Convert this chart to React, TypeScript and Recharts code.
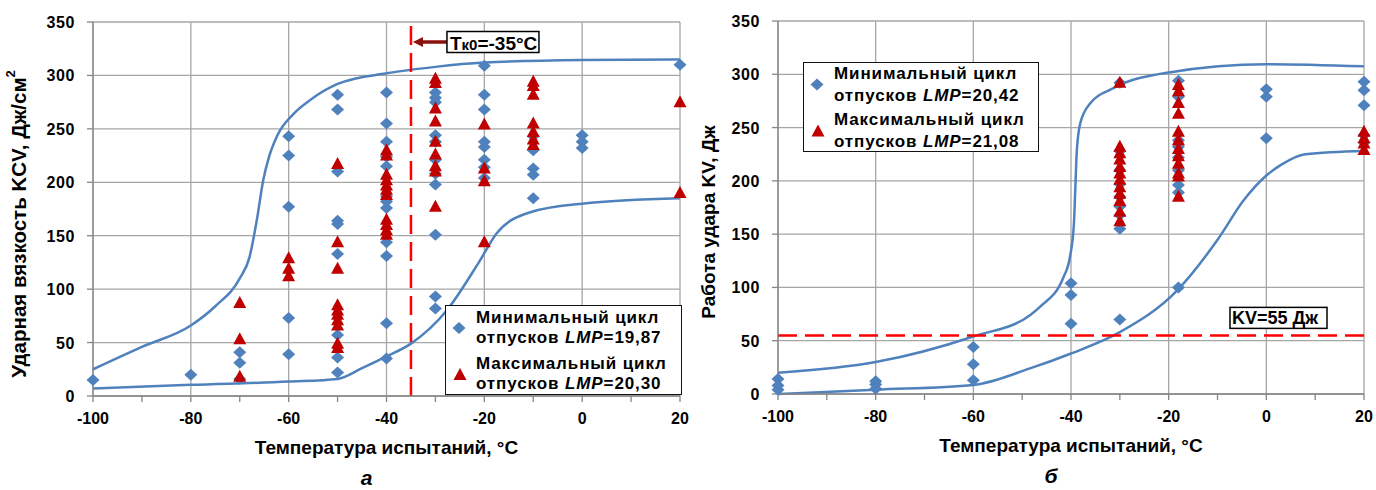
import React from 'react';
import {
  ComposedChart, Scatter, Line, XAxis, YAxis, CartesianGrid, ReferenceLine, Legend, Label,
} from 'recharts';

// shared axes, °C and J
const xTicks = [-100, -90, -80, -70, -60, -50, -40, -30, -20, -10, 0, 10, 20];
const xGridLines = [-100, -80, -60, -40, -20, 0, 20];
const yTicks = [0, 50, 100, 150, 200, 250, 300, 350];

// (а) KCV, минимальный цикл LMP=19,87
const kcvMinTemps = [-100, -80, -70, -60, -50, -40, -30, -20, -10, 0, 20];
const kcvMinValues = [
  [15],
  [20],
  [41, 31, 16],
  [243, 225, 177, 73, 39],
  [282, 268, 210, 164, 161, 133, 57, 36, 22],
  [284, 255, 238, 224, 215, 187, 182, 176, 144, 131, 68, 35],
  [284, 279, 275, 244, 238, 221, 208, 198, 151, 93, 82],
  [309, 282, 268, 238, 233, 221, 214, 204],
  [243, 230, 213, 207, 185],
  [244, 238, 232],
  [310],
];

// (а) KCV, максимальный цикл LMP=20,30
const kcvMaxTemps = [-70, -60, -50, -40, -30, -20, -10, 20];
const kcvMaxValues = [
  [87, 53, 18],
  [129, 119, 112],
  [217, 144, 119, 85, 80, 76, 71, 66, 49, 45],
  [230, 225, 207, 202, 197, 193, 188, 165, 160, 155, 151],
  [297, 293, 269, 257, 238, 226, 215, 210, 177],
  [254, 213, 201, 144],
  [294, 290, 282, 255, 247, 240, 235],
  [275, 190],
];

// (а) fitted transition curves
const kcvFitUpper: [number, number][] = [
  [-100, 25], [-90, 46], [-80, 66], [-75, 84], [-70, 110], [-68, 130], [-66.5, 165],
  [-65.2, 202], [-64, 224], [-62.4, 243], [-59, 264], [-55.6, 277], [-50, 292],
  [-40, 302], [-30, 308], [-20, 312], [0, 314.5], [20, 315],
];
const kcvFitLower: [number, number][] = [
  [-100, 7], [-80, 10.5], [-60, 13.5], [-50, 16], [-45, 26], [-40, 37], [-35, 49],
  [-27.7, 80], [-21, 126], [-17.5, 152], [-10.6, 172], [0, 180], [20, 185],
];

// (б) KV, минимальный цикл LMP=20,42
const kvMinTemps = [-100, -80, -60, -40, -30, -18, 0, 20];
const kvMinValues = [
  [14, 8, 4],
  [12, 9, 5],
  [44, 28, 13],
  [104, 93, 66],
  [292, 228, 210, 197, 185, 176, 168, 155, 70],
  [294, 279, 238, 232, 222, 210, 196, 189, 100],
  [286, 279, 240],
  [293, 285, 271, 243, 236],
];

// (б) KV, максимальный цикл LMP=21,08
const kvMaxTemps = [-30, -18, 20];
const kvMaxValues = [
  [292, 232, 226, 220, 213, 207, 201, 194, 188, 181, 171, 162],
  [290, 284, 273, 263, 246, 238, 230, 223, 216, 207, 204, 185],
  [246, 240, 235, 229],
];

// (б) fitted transition curves
const kvFitUpper: [number, number][] = [
  [-100, 20], [-80, 30], [-60, 54], [-48.4, 74], [-46.3, 82], [-41.5, 110], [-40.2, 129],
  [-39.4, 160], [-39.1, 195], [-38.8, 229], [-38.1, 254], [-36.1, 272.5], [-31.3, 287],
  [-19.6, 302], [0, 309.5], [20, 307.5],
];
const kvFitLower: [number, number][] = [
  [-100, 0], [-80, 4], [-60, 8.5], [-48.4, 24], [-40, 38], [-30, 58], [-18.2, 97.5],
  [-10.1, 144], [-4.6, 182], [0, 205], [3, 215], [8, 225], [20, 228],
];

const kcvThresholdTemp = -35;
const kvThreshold = 55;

const FONT = "'Liberation Sans', Arial, sans-serif";
const BLUE = '#4F81BD';
const RED = '#C00000';
const GRID = '#A6A6A6';
const AXIS = '#868686';

const toPoints = (temps: number[], values: number[][]) =>
  temps.flatMap((t, i) => values[i].map((v) => ({ x: t, y: v })));
const toCurve = (pairs: [number, number][]) => pairs.map(([x, y]) => ({ x, y }));

const Diamond = (p: any) => {
  const { cx, cy } = p;
  return <path d={`M${cx},${cy - 6} L${cx + 6.5},${cy} L${cx},${cy + 6} L${cx - 6.5},${cy} Z`} fill={BLUE} />;
};

const Triangle = (p: any) => {
  const { cx, cy } = p;
  return <path d={`M${cx},${cy - 7} L${cx + 6.5},${cy + 5} L${cx - 6.5},${cy + 5} Z`} fill={RED} />;
};

const XTick = (p: any) => {
  const { x, y, payload } = p;
  if (payload.value % 20 !== 0) return <g />;
  return (
    <text x={x} y={y} dy={20} textAnchor="middle" fontFamily={FONT} fontWeight="bold" fontSize={16} fill="#000">
      {payload.value}
    </text>
  );
};

const YTick = (p: any) => {
  const { x, y, payload } = p;
  return (
    <text x={x} y={y} dy={6} textAnchor="end" fontFamily={FONT} fontWeight="bold" fontSize={16} fill="#000" letterSpacing={0.6}>
      {payload.value}
    </text>
  );
};

type LegendItem = { marker: 'diamond' | 'triangle'; title: string; lmp: string };

const LegendBox = ({ items, width, height, padTop, lineHeight, gap }: any) => (
  <div
    style={{
      width, height, boxSizing: 'border-box', border: '1.5px solid #111', background: '#fff',
      paddingTop: padTop, fontFamily: FONT, fontWeight: 'bold', fontSize: 17, letterSpacing: 0.9,
      lineHeight: `${lineHeight}px`, color: '#000',
    }}
  >
    {items.map((it: LegendItem, i: number) => (
      <div key={i} style={{ display: 'flex', alignItems: 'center', marginTop: i ? gap : 0 }}>
        <svg width={30} height={lineHeight * 2} style={{ flex: 'none' }}>
          {it.marker === 'diamond'
            ? <Diamond cx={13} cy={lineHeight} />
            : <Triangle cx={14} cy={lineHeight + 1} />}
        </svg>
        <div>
          {it.title}
          <br />
          отпусков <i>LMP</i>={it.lmp}
        </div>
      </div>
    ))}
  </div>
);

const TkLabel = ({ viewBox }: any) => {
  const x = viewBox.x;
  const y = viewBox.y + 20;
  return (
    <g>
      <path
        d={`M${x + 2},${y} L${x + 12},${y - 5} L${x + 12},${y - 1.8} L${x + 36},${y - 1.8} L${x + 36},${y + 1.8} L${x + 12},${y + 1.8} L${x + 12},${y + 5} Z`}
        fill="#8B1010"
      />
      <rect x={x + 36} y={y - 10.5} width={92} height={21} fill="#fff" stroke="#000" strokeWidth={1.5} />
      <text x={x + 39} y={y + 7.5} fontFamily={FONT} fontWeight="bold" fontSize={19} fill="#000">
        T<tspan fontSize={15}>к0</tspan>=-35°C
      </text>
    </g>
  );
};

const KvLabel = ({ viewBox }: any) => {
  const right = viewBox.x + viewBox.width - 37;
  const y = viewBox.y;
  return (
    <g>
      <rect x={right - 97} y={y - 28} width={97} height={21} fill="#fff" stroke="#000" strokeWidth={1.5} />
      <text x={right - 95} y={y - 11.5} fontFamily={FONT} fontWeight="bold" fontSize={18} fill="#000">
        KV=55 Дж
      </text>
    </g>
  );
};

type PanelProps = {
  width: number;
  yAxisWidth: number;
  margin: { top: number; right: number; bottom: number; left: number };
  yLabel: React.ReactNode;
  yLabelSize: number;
  yLabelCenter: number;
  caption: string;
  minPts: { x: number; y: number }[];
  maxPts: { x: number; y: number }[];
  fits: { x: number; y: number }[][];
  legendItems: LegendItem[];
  legendPos: { left: number; top: number; width: number; height: number; padTop: number; lineHeight: number; gap: number };
  children?: React.ReactNode;
};

const Panel = ({
  width, yAxisWidth, margin, yLabel, yLabelSize, yLabelCenter, caption,
  minPts, maxPts, fits, legendItems, legendPos, children,
}: PanelProps) => (
  <ComposedChart width={width} height={490} margin={margin}>
    <CartesianGrid vertical={false} stroke={GRID} strokeWidth={1.3} />
    {xGridLines.map((v) => (
      <ReferenceLine key={v} x={v} stroke={GRID} strokeWidth={1.3} />
    ))}
    <XAxis
      type="number" dataKey="x" domain={[-100, 20]} ticks={xTicks} interval={0}
      height={30} tickSize={6} stroke={AXIS} strokeWidth={1.3} tick={<XTick />}
    >
      <Label
        content={(p: any) => {
          const vb = p.viewBox;
          const cx = vb.x + vb.width / 2;
          return (
            <g>
              <text x={cx} y={vb.y + 58} textAnchor="middle" fontFamily={FONT} fontWeight="bold" fontSize={19} fill="#000">
                Температура испытаний, °C
              </text>
              <text x={cx - 20} y={vb.y + 89} textAnchor="middle" fontFamily={FONT} fontWeight="bold" fontStyle="italic" fontSize={21} fill="#000">
                {caption}
              </text>
            </g>
          );
        }}
      />
    </XAxis>
    <YAxis
      type="number" domain={[0, 350]} ticks={yTicks} interval={0} width={yAxisWidth}
      tickSize={6} tickMargin={12} stroke={AXIS} strokeWidth={1.3} tick={<YTick />}
    >
      <Label
        content={() => (
          <text
            x={18} y={yLabelCenter} transform={`rotate(-90, 18, ${yLabelCenter})`} textAnchor="middle"
            dominantBaseline="central" fontFamily={FONT} fontWeight="bold" fontSize={yLabelSize} fill="#000"
          >
            {yLabel}
          </text>
        )}
      />
    </YAxis>
    {fits.map((f, i) => (
      <Line key={i} data={f} dataKey="y" type="monotone" stroke={BLUE} strokeWidth={2.5} dot={false} isAnimationActive={false} />
    ))}
    {children}
    <Scatter data={minPts} dataKey="y" shape={<Diamond />} isAnimationActive={false} />
    <Scatter data={maxPts} dataKey="y" shape={<Triangle />} isAnimationActive={false} />
    <Legend
      layout="vertical" align="center" verticalAlign="middle"
      wrapperStyle={{ left: legendPos.left, top: legendPos.top, width: legendPos.width, height: legendPos.height }}
      content={() => <LegendBox items={legendItems} {...legendPos} />}
    />
  </ComposedChart>
);

export default function App() {
  return (
    <div style={{ position: 'absolute', left: 0, top: 0, width: 1376, height: 490, display: 'flex', background: '#fff' }}>
      <Panel
        width={690}
        yAxisWidth={93}
        margin={{ top: 22, right: 10, bottom: 64, left: 0 }}
        yLabel={<>Ударная вязкость KCV, Дж/см<tspan dy={-8} fontSize={13}>2</tspan></>}
        yLabelSize={20.5}
        yLabelCenter={224}
        caption="а"
        minPts={toPoints(kcvMinTemps, kcvMinValues)}
        maxPts={toPoints(kcvMaxTemps, kcvMaxValues)}
        fits={[toCurve(kcvFitUpper), toCurve(kcvFitLower)]}
        legendItems={[
          { marker: 'diamond', title: 'Минимальный цикл', lmp: '19,87' },
          { marker: 'triangle', title: 'Максимальный цикл', lmp: '20,30' },
        ]}
        legendPos={{ left: 445, top: 305, width: 237, height: 90, padTop: 2, lineHeight: 20, gap: 6 }}
      >
        <ReferenceLine
          x={kcvThresholdTemp} stroke="#FF0000" strokeWidth={2.5} strokeDasharray="19 8"
          label={(p: any) => <TkLabel viewBox={p.viewBox} />}
        />
      </Panel>
      <Panel
        width={686}
        yAxisWidth={88}
        margin={{ top: 21, right: 12, bottom: 66, left: 0 }}
        yLabel="Работа удара KV, Дж"
        yLabelSize={19}
        yLabelCenter={222}
        caption="б"
        minPts={toPoints(kvMinTemps, kvMinValues)}
        maxPts={toPoints(kvMaxTemps, kvMaxValues)}
        fits={[toCurve(kvFitUpper), toCurve(kvFitLower)]}
        legendItems={[
          { marker: 'diamond', title: 'Минимальный цикл', lmp: '20,42' },
          { marker: 'triangle', title: 'Максимальный цикл', lmp: '21,08' },
        ]}
        legendPos={{ left: 113, top: 62, width: 236, height: 90, padTop: 0, lineHeight: 21.5, gap: 3 }}
      >
        <ReferenceLine
          y={kvThreshold} stroke="#FF0000" strokeWidth={2.5} strokeDasharray="19 8"
          label={(p: any) => <KvLabel viewBox={p.viewBox} />}
        />
      </Panel>
    </div>
  );
}
